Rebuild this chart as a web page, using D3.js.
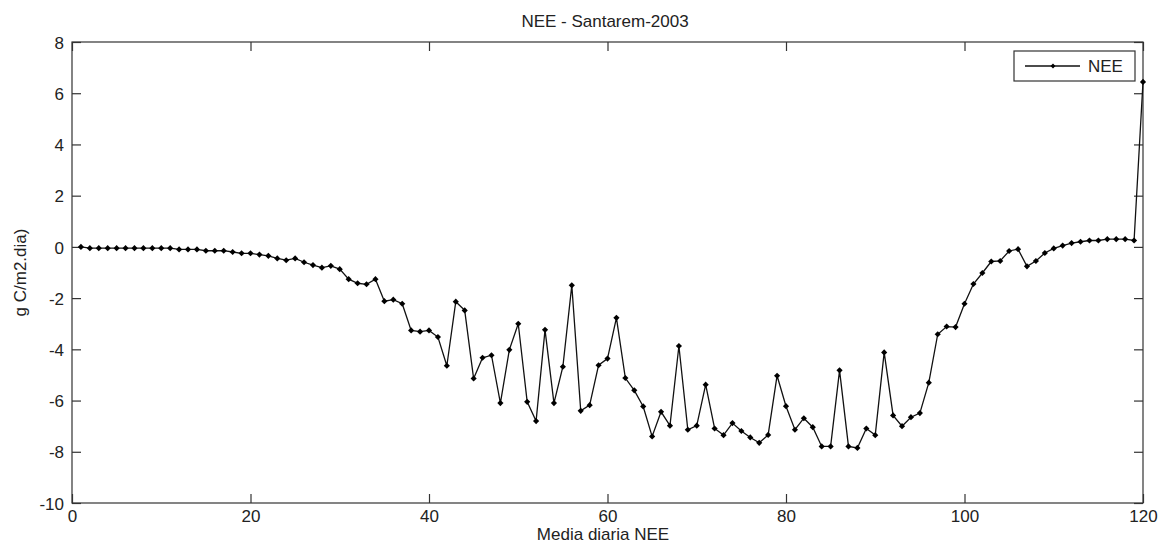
<!DOCTYPE html>
<html><head><meta charset="utf-8">
<script src="https://cdn.jsdelivr.net/npm/d3@7"></script>
<style>body{margin:0;background:#fff}svg{display:block;font-family:"Liberation Sans",Arial,sans-serif}</style>
</head><body><svg id="c" width="1159" height="546"></svg>
<script>
const title = "NEE - Santarem-2003";
const xLabel = "Media diaria NEE";
const yLabel = "g C/m2.dia)";
const seriesName = "NEE";
const xTicks = [0,20,40,60,80,100,120];
const yTicks = [-10,-8,-6,-4,-2,0,2,4,6,8];
const days = d3.range(1,121);
const nee = [
 0,-0.05,-0.05,-0.05,-0.05,-0.05,-0.05,-0.05,-0.05,-0.05,
 -0.05,-0.1,-0.1,-0.1,-0.15,-0.15,-0.15,-0.2,-0.25,-0.25,
 -0.3,-0.35,-0.45,-0.52,-0.45,-0.6,-0.71,-0.81,-0.74,-0.87,
 -1.26,-1.42,-1.46,-1.26,-2.12,-2.06,-2.22,-3.26,-3.31,-3.26,
 -3.52,-4.64,-2.14,-2.48,-5.14,-4.33,-4.23,-6.1,-4.02,-3.0,
 -6.05,-6.8,-3.24,-6.1,-4.68,-1.5,-6.4,-6.18,-4.62,-4.36,
 -2.77,-5.12,-5.6,-6.23,-7.4,-6.44,-6.98,-3.87,-7.14,-6.98,
 -5.38,-7.09,-7.35,-6.88,-7.19,-7.44,-7.65,-7.34,-5.03,-6.22,
 -7.14,-6.69,-7.04,-7.79,-7.79,-4.82,-7.79,-7.85,-7.09,-7.35,
 -4.12,-6.58,-7.0,-6.65,-6.49,-5.3,-3.41,-3.11,-3.13,-2.22,
 -1.45,-1.02,-0.57,-0.55,-0.16,-0.09,-0.76,-0.55,-0.24,-0.06,
 0.05,0.15,0.2,0.25,0.25,0.3,0.3,0.3,0.25,6.44
];
const data = days.map((d,i)=>({x:d,y:nee[i]}));

const svg = d3.select("#c");
const L=72, R=1143, T=42, B=503;
const x = d3.scaleLinear().domain([0,120]).range([L,R]);
const y = d3.scaleLinear().domain([-10,8]).range([B,T]);
const ink = "#333";
const tl = 9;
const fs = "17px";
const fmt = d => String(d);

svg.append("rect").attr("x",L).attr("y",T).attr("width",R-L).attr("height",B-T)
  .attr("fill","none").attr("stroke",ink).attr("stroke-width",1.2);

const gx = svg.append("g").attr("transform",`translate(0,${B})`)
  .call(d3.axisBottom(x).tickValues(xTicks).tickSizeInner(-tl).tickSizeOuter(0).tickFormat(fmt));
const gxt = svg.append("g").attr("transform",`translate(0,${T})`)
  .call(d3.axisTop(x).tickValues(xTicks).tickSizeInner(-tl).tickSizeOuter(0).tickFormat(""));
const gy = svg.append("g").attr("transform",`translate(${L},0)`)
  .call(d3.axisLeft(y).tickValues(yTicks).tickSizeInner(-tl).tickSizeOuter(0).tickFormat(fmt));
const gyr = svg.append("g").attr("transform",`translate(${R},0)`)
  .call(d3.axisRight(y).tickValues(yTicks).tickSizeInner(-tl).tickSizeOuter(0).tickFormat(""));
[gx,gxt,gy,gyr].forEach(g=>{
  g.select(".domain").remove();
  g.selectAll("line").attr("stroke",ink).attr("stroke-width",1.2);
  g.selectAll("text").attr("fill","#222").style("font-size",fs).style("font-family","'Liberation Sans',Arial,sans-serif");
});
gx.selectAll("text").attr("y",19).attr("dy",null);
gy.selectAll("text").attr("x",-8).attr("dy","0.36em");

svg.append("path").datum(data)
  .attr("fill","none").attr("stroke","#111").attr("stroke-width",1.3)
  .attr("d",d3.line().x(d=>x(d.x)).y(d=>y(d.y)));
const sym = d3.symbol().type(d3.symbolSquare).size(19);
svg.append("g").selectAll("path").data(data).join("path")
  .attr("transform",d=>`translate(${x(d.x)},${y(d.y)}) rotate(45)`)
  .attr("d",sym).attr("fill","#000");

svg.append("text").attr("x",605).attr("y",27).attr("text-anchor","middle")
  .style("font-size",fs).attr("fill","#222").text(title);
svg.append("text").attr("x",603).attr("y",540).attr("text-anchor","middle")
  .style("font-size",fs).attr("fill","#222").text(xLabel);
svg.append("text").attr("transform",`translate(26,${(T+B)/2}) rotate(-90)`).attr("text-anchor","middle")
  .style("font-size",fs).attr("fill","#222").text(yLabel);

const lg = svg.append("g");
lg.append("rect").attr("x",1014).attr("y",51).attr("width",121).attr("height",30)
  .attr("fill","#fff").attr("stroke",ink).attr("stroke-width",1.2);
lg.append("line").attr("x1",1025).attr("x2",1080).attr("y1",66).attr("y2",66).attr("stroke","#111").attr("stroke-width",1.3);
lg.append("path").attr("transform","translate(1053,66) rotate(45)").attr("d",d3.symbol().type(d3.symbolSquare).size(12)).attr("fill","#000");
lg.append("text").attr("x",1088).attr("y",72).style("font-size",fs).attr("fill","#222").text(seriesName);
</script></body></html>
